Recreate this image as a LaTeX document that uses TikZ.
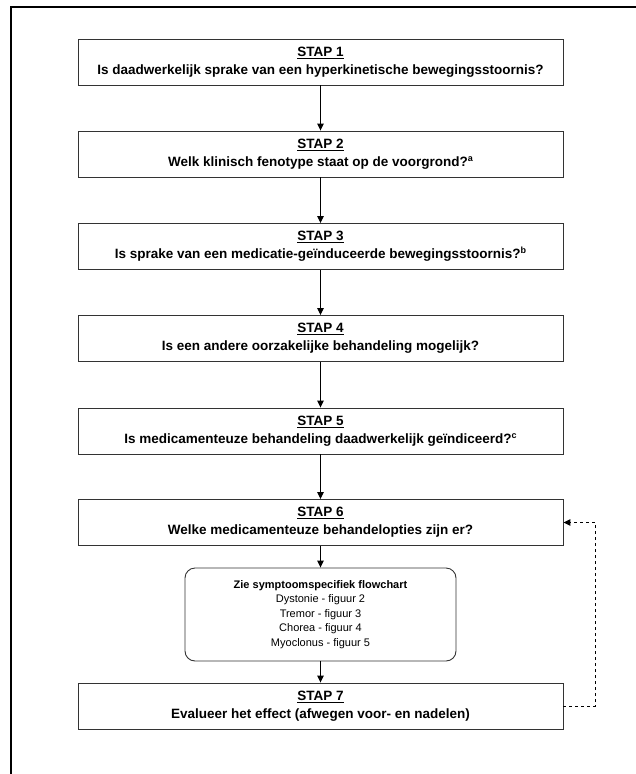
\documentclass[tikz,border=0pt]{standalone}
\usepackage{fontspec}
\setmainfont{Liberation Sans}
\usetikzlibrary{arrows.meta}
\newcommand{\supx}[1]{\raisebox{5pt}{\fontsize{9}{9}\selectfont #1}}
\begin{document}
\begin{tikzpicture}[x=1pt,y=-1pt,
  stepbox/.style={draw=black!80, line width=0.9pt, minimum width=485pt, minimum height=46pt,
    align=center, font=\bfseries\fontsize{13.5}{18}\selectfont, inner sep=0pt},
  roundbox/.style={draw=black!80, line width=0.9pt, rounded corners=10pt, minimum width=271pt,
    minimum height=93pt, align=center, font=\fontsize{11}{14.6}\selectfont, inner sep=0pt},
  arr/.style={-{Triangle[length=7pt,width=6.5pt]}, line width=1pt},
  darr/.style={arr, dash pattern=on 3pt off 3pt}]
\useasboundingbox (0,0) rectangle (636,774);
\draw[line width=1.2pt] (636,7) -- (11,7) -- (11,774);
\node[stepbox] (s1) at (320.5,62) {\underline{STAP 1}\\Is daadwerkelijk sprake van een hyperkinetische bewegingsstoornis?};
\node[stepbox] (s2) at (320.5,154) {\underline{STAP 2}\\Welk klinisch fenotype staat op de voorgrond?\supx{a}};
\node[stepbox] (s3) at (320.5,246.5) {\underline{STAP 3}\\Is sprake van een medicatie-geïnduceerde bewegingsstoornis?\supx{b}};
\node[stepbox] (s4) at (320.5,338.5) {\underline{STAP 4}\\Is een andere oorzakelijke behandeling mogelijk?};
\node[stepbox] (s5) at (320.5,431) {\underline{STAP 5}\\Is medicamenteuze behandeling daadwerkelijk geïndiceerd?\supx{c}};
\node[stepbox] (s6) at (320.5,522.5) {\underline{STAP 6}\\Welke medicamenteuze behandelopties zijn er?};
\node[roundbox] (r) at (320.5,614.5) {\textbf{Zie symptoomspecifiek flowchart}\\Dystonie - figuur 2\\Tremor - figuur 3\\Chorea - figuur 4\\Myoclonus - figuur 5};
\node[stepbox] (s7) at (320.5,706) {\underline{STAP 7}\\Evalueer het effect (afwegen voor- en nadelen)};
\draw[arr] (s1) -- (s2);
\draw[arr] (s2) -- (s3);
\draw[arr] (s3) -- (s4);
\draw[arr] (s4) -- (s5);
\draw[arr] (s5) -- (s6);
\draw[arr] (s6) -- (r);
\draw[arr] (r) -- (s7);
\draw[darr] (s7.east) -- ++(32,0) |- (s6.east);
\end{tikzpicture}
\end{document}
